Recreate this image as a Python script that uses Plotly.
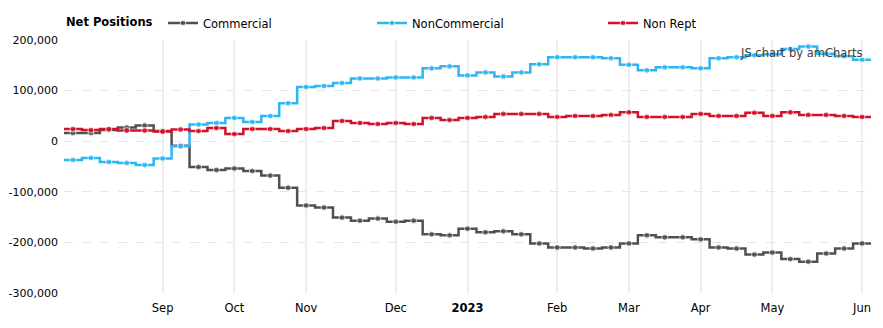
import pandas as pd
import plotly.graph_objects as go

# ---- data ----
start_date = "2022-08-02"
n_weeks = 45
dates = pd.date_range(start_date, periods=n_weeks, freq="7D")

commercial = [16000, 16000, 22000, 27000, 31000, 20000, -9000, -51000, -57000, -54000,
              -59000, -68000, -92000, -127000, -131000, -151000, -157000, -153000, -159000, -157000,
              -184000, -186000, -173000, -180000, -178000, -184000, -202000, -210000, -210000, -212000,
              -210000, -202000, -186000, -190000, -190000, -194000, -210000, -212000, -224000, -220000,
              -233000, -238000, -222000, -212000, -202000]
noncommercial = [-37000, -33000, -41000, -43000, -47000, -34000, -10000, 33000, 36000, 46000,
                 38000, 50000, 75000, 107000, 109000, 115000, 124000, 124000, 126000, 126000,
                 144000, 148000, 130000, 136000, 128000, 136000, 152000, 166000, 166000, 166000,
                 164000, 151000, 140000, 146000, 146000, 144000, 164000, 166000, 170000, 172000,
                 182000, 187000, 173000, 168000, 161000]
nonrept = [24000, 22000, 24000, 21000, 21000, 19000, 23000, 20000, 26000, 14000,
           24000, 24000, 20000, 24000, 26000, 40000, 36000, 34000, 36000, 34000,
           46000, 42000, 46000, 48000, 54000, 54000, 54000, 48000, 50000, 50000,
           52000, 57000, 48000, 48000, 48000, 54000, 50000, 50000, 56000, 50000,
           57000, 52000, 52000, 50000, 48000]

series_names = ["Commercial", "NonCommercial", "Non Rept"]
series_values = [commercial, noncommercial, nonrept]
series_colors = ["#505050", "#2bb6f6", "#d3112b"]
legend_title = "Net Positions"

x_tick_dates = ["2022-09-06", "2022-10-04", "2022-11-01", "2022-12-06", "2023-01-03",
                "2023-02-07", "2023-03-07", "2023-04-04", "2023-05-02", "2023-06-06"]
x_tick_labels = ["Sep", "Oct", "Nov", "Dec", "<b>2023</b>", "Feb", "Mar", "Apr", "May", "Jun"]
y_tick_values = [-300000, -200000, -100000, 0, 100000, 200000]
y_tick_labels = ["-300,000", "-200,000", "-100,000", "0", "100,000", "200,000"]

FONT = "DejaVu Sans"
half = pd.Timedelta(hours=84)
x_pad = [dates[0] - half] + list(dates) + [dates[-1] + half]

fig = go.Figure()
legend_ids = ["legend", "legend2", "legend3"]
for name, vals, col, lg in zip(series_names, series_values, series_colors, legend_ids):
    y_pad = [vals[0]] + list(vals) + [vals[-1]]
    sizes = [0] + [6] * len(vals) + [0]
    fig.add_trace(go.Scatter(
        x=x_pad, y=y_pad, name=name, mode="lines+markers",
        line=dict(color=col, width=2.5, shape="hvh"),
        marker=dict(color=col, size=sizes, symbol="circle"),
        legend=lg, hoverinfo="skip"))

W, H = 883, 328
L, R, T, B = 64, 12, 40, 35
plot_h = H - T - B

legend_common = dict(orientation="h", xref="container", yref="container",
                     xanchor="left", yanchor="middle", y=1 - 23 / H,
                     font=dict(size=11.5, family=FONT, color="#000000"),
                     bgcolor="rgba(0,0,0,0)", itemwidth=30)

fig.update_layout(
    width=W, height=H,
    margin=dict(l=L, r=R, t=T, b=B, autoexpand=False),
    paper_bgcolor="white", plot_bgcolor="white",
    font=dict(family=FONT, size=11, color="#000000"),
    legend=dict(x=163 / W, **legend_common),
    legend2=dict(x=372 / W, **legend_common),
    legend3=dict(x=603 / W, **legend_common),
    showlegend=True,
)

fig.update_xaxes(
    type="date", range=[x_pad[0], x_pad[-1]], automargin=False,
    tickmode="array", tickvals=x_tick_dates, ticktext=x_tick_labels,
    showgrid=True, gridcolor="#eeeeee", gridwidth=2,
    showline=False, zeroline=False, ticks="", ticklabelstandoff=6,
    tickfont=dict(size=11.5, color="#000000"),
)
fig.update_yaxes(
    range=[-300000, 200000], automargin=False,
    tickmode="array", tickvals=y_tick_values, ticktext=y_tick_labels,
    showgrid=True, gridcolor="#e6e6e6", gridwidth=1, griddash="dash",
    zeroline=False, showline=False, ticks="", ticklabelstandoff=5,
    tickfont=dict(size=11, color="#000000"),
)

fig.add_annotation(text="<b>" + legend_title + "</b>", xref="paper", yref="paper",
                   x=0.0, y=1 + (T - 22) / plot_h, xanchor="left", yanchor="middle",
                   showarrow=False, font=dict(size=11.5, color="#000000", family=FONT))
fig.add_annotation(text="JS chart by amCharts", xref="paper", yref="paper",
                   x=0.992, y=0.948, xanchor="right", yanchor="middle", showarrow=False,
                   font=dict(size=11.5, color="#404040", family=FONT))

fig.write_html("out.html")
